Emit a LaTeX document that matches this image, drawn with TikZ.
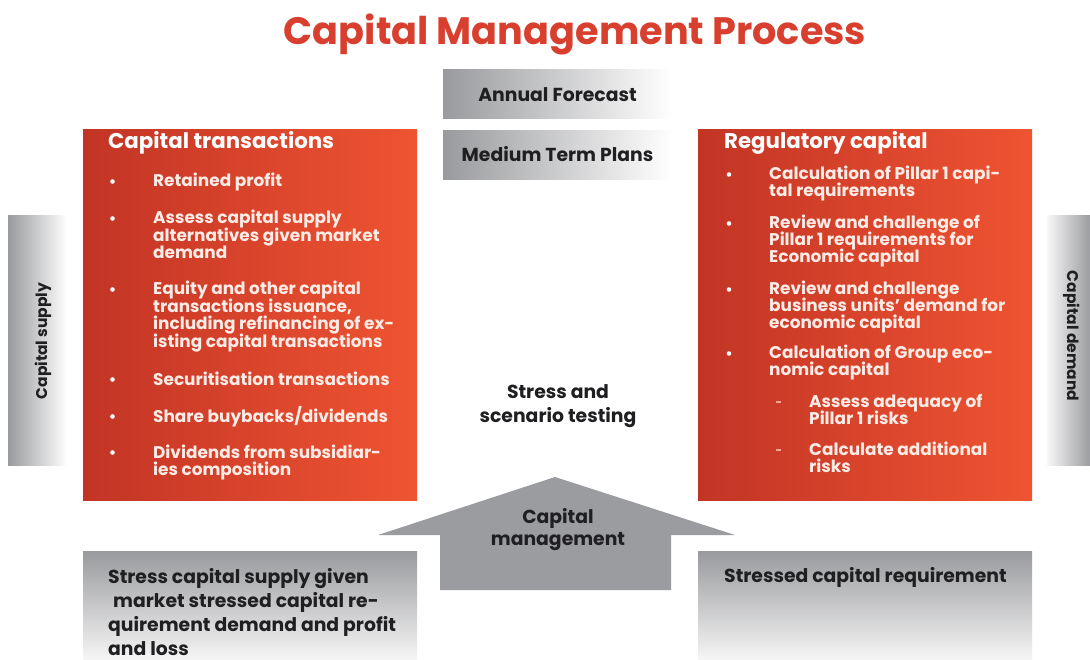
\documentclass[tikz,border=0pt]{standalone}
\usepackage{fontspec}
\setmainfont{Poppins}
\definecolor{redL}{HTML}{C23425}
\definecolor{redR}{HTML}{EF5432}
\definecolor{titlered}{HTML}{D83F2F}
\definecolor{grayD}{HTML}{999A9D}
\definecolor{grayL}{HTML}{F7F7F7}
\definecolor{arrowgray}{HTML}{9B9CA0}
\definecolor{pinktext}{HTML}{FDEBE6}
\definecolor{darktext}{HTML}{1F1F22}
\definecolor{dashpink}{HTML}{F4A58F}
\tikzset{
  redbox/.style={draw=none, left color=redL, right color=redR, minimum width=334, minimum height=371, anchor=north west, inner sep=0},
  hgray/.style={draw=none, left color=grayD, right color=white, anchor=north west, inner sep=0},
  hgrayr/.style={draw=none, left color=grayL, right color=grayD, anchor=north west, inner sep=0},
  vgray/.style={draw=none, top color=grayD, bottom color=grayL, anchor=north west, inner sep=0, minimum width=334, minimum height=110},
  body/.style={anchor=base west, inner sep=0, text=pinktext, font=\bfseries\fontsize{16.9}{19}\selectfont},
  rtitle/.style={anchor=base west, inner sep=0, text=white, font=\bfseries\fontsize{21.3}{24}\selectfont},
  graytext/.style={inner sep=0, text=darktext, font=\bfseries\fontsize{18.8}{21}\selectfont},
  sidetext/.style={inner sep=0, text=darktext, font=\bfseries\fontsize{15.5}{18}\selectfont},
  bul/.style={circle, fill=white, inner sep=0, minimum size=4.6},
}
\begin{document}
\begin{tikzpicture}[x=1pt,y=-1pt]
\useasboundingbox[fill=white] (0,0) rectangle (1090,660);
% title
\node[anchor=base, inner sep=0, text=titlered, font=\bfseries\fontsize{38.2}{44}\selectfont] (title) at (575,45) {Capital Management Process};
% top gray boxes
\node[hgray, minimum width=229, minimum height=49] (af) at (443,69) {};
\node[graytext, anchor=base] (aft) at (557.5,102) {Annual Forecast};
\node[hgray, minimum width=229, minimum height=49] (mtp) at (443,130) {};
\node[graytext, anchor=base] (mtpt) at (557.5,162) {Medium Term Plans};
% side bars
\node[hgray, minimum width=59, minimum height=250] (supply) at (8,215) {};
\node[sidetext, anchor=base, rotate=90] (supplyt) at (47,341) {Capital supply};
\node[hgrayr, minimum width=44, minimum height=250] (demand) at (1047,215) {};
\node[sidetext, anchor=base, rotate=-90] (demandt) at (1067,336) {Capital demand};
% red boxes
\node[redbox] (lbox) at (83,129) {};
\node[redbox] (rbox) at (698,129) {};
\node[rtitle] (ltitle) at (108,149) {Capital transactions};
\node[rtitle] (rtitle) at (724,149) {Regulatory capital};
% left list
\foreach \y/\t [count=\i] in {187/{Retained profit}, 224/{Assess capital supply}, 242/{alternatives given market}, 259/{demand}, 295/{Equity and other capital}, 312.5/{transactions issuance,}, 330/{including refinancing of ex-}, 347.5/{isting capital transactions}, 385/{Securitisation transactions}, 422/{Share buybacks/dividends}, 458/{Dividends from subsidiar-}, 475/{ies composition}}
  \node[body] (L\i) at (153,\y) {\t};
\foreach \y [count=\i] in {187,224,295,385,422,458}
  \node[bul] (bl\i) at (112.5,\y-5.5) {};
% right list
\foreach \y/\t [count=\i] in {180/{Calculation of Pillar 1 capi-}, 197/{tal requirements}, 229/{Review and challenge of}, 246/{Pillar 1 requirements for}, 263/{Economic capital}, 295/{Review and challenge}, 312/{business units' demand for}, 329/{economic capital}, 359/{Calculation of Group eco-}, 376/{nomic capital}}
  \node[body] (R\i) at (769,\y) {\t};
\foreach \y [count=\i] in {180,229,295,359}
  \node[bul] (br\i) at (729,\y-5.5) {};
\foreach \y/\t [count=\i] in {407/{Assess adequacy of}, 424/{Pillar 1 risks}, 455/{Calculate additional}, 472/{risks}}
  \node[body] (S\i) at (809,\y) {\t};
\foreach \y [count=\i] in {407,455}
  \node[inner sep=0, fill=dashpink, minimum width=5.5, minimum height=1.6] (dash\i) at (778.5,\y-5) {};
% centre text
\node[graytext, anchor=base] (st1) at (558,399) {Stress and};
\node[graytext, anchor=base] (st2) at (558,422) {scenario testing};
% arrow
\fill[arrowgray] (555,477) -- (735,535) -- (671,535) -- (671,590) -- (440,590) -- (440,535) -- (378,535) -- cycle;
\node[graytext, anchor=base] (cm1) at (558,523) {Capital};
\node[graytext, anchor=base] (cm2) at (558,545) {management};
% bottom boxes
\node[vgray] (bl) at (83,551) {};
\node[vgray] (br) at (698,551) {};
\node[graytext, anchor=base west] (bl1) at (108,583) {Stress capital supply given};
\node[graytext, anchor=base west] (bl2) at (113,607) {market stressed capital re-};
\node[graytext, anchor=base west] (bl3) at (108,631) {quirement demand and profit};
\node[graytext, anchor=base west] (bl4) at (108,655) {and loss};
\node[graytext, anchor=base west] (br1) at (724,582) {Stressed capital requirement};
\end{tikzpicture}
\end{document}
